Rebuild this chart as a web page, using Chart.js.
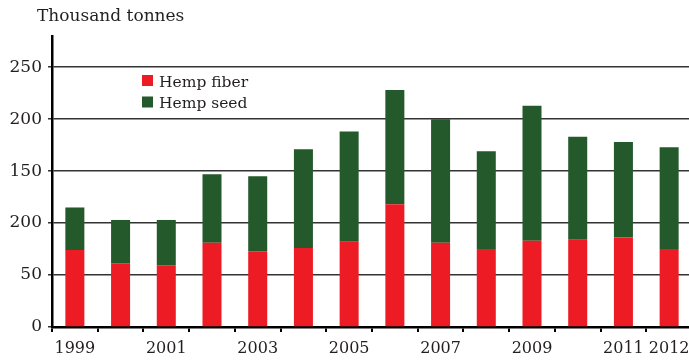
<!DOCTYPE html>
<html>
<head>
<meta charset="utf-8">
<script src="https://cdn.jsdelivr.net/npm/chart.js@4/dist/chart.umd.min.js"></script>
<style>
  html, body { margin: 0; padding: 0; background: #ffffff; overflow: hidden; width: 689px; height: 362px; }
  #wrap { position: relative; width: 697px; height: 362px; }
</style>
</head>
<body>
<div id="wrap"><canvas id="c" width="697" height="362"></canvas></div>
<script>
const years = ['1999','2000','2001','2002','2003','2004','2005','2006','2007','2008','2009','2010','2011','2012'];
const xLabelsShown = ['1999','2001','2003','2005','2007','2009','2011','2012'];
const hempFiber = [74, 61, 59, 81, 73, 76, 82, 118, 81, 75, 83, 84, 86, 75];
const hempSeed  = [41, 42, 44, 66, 72, 95, 106, 110, 119, 94, 130, 99, 92, 98];
const yTickValues = [0, 50, 100, 150, 200, 250];
const yTickLabels = ['0', '50', '200', '150', '200', '250'];
const seriesNames = ['Hemp fiber', 'Hemp seed'];
const unitTitle = 'Thousand tonnes';

const RED = '#ed1c24';
const GREEN = '#245a2b';
const TEXT = '#231f20';

Chart.defaults.font.family = "'DejaVu Serif', serif";
Chart.defaults.color = TEXT;

const overlay = {
  id: 'overlay',
  afterDraw(chart) {
    const ctx = chart.ctx;
    ctx.save();
    ctx.fillStyle = TEXT;
    ctx.font = "17px 'DejaVu Serif'";
    ctx.textBaseline = 'alphabetic';
    ctx.textAlign = 'left';
    ctx.fillText(unitTitle, 37, 21);
    // legend
    const ds = chart.data.datasets;
    ctx.font = "15.5px 'DejaVu Serif'";
    ds.forEach((d, i) => {
      const y0 = 75 + i * 21.5;
      ctx.fillStyle = d.backgroundColor;
      ctx.fillRect(142, y0, 11, 11);
      ctx.fillStyle = TEXT;
      ctx.fillText(d.label, 159, y0 + 11.5);
    });
    ctx.restore();
  }
};

new Chart(document.getElementById('c'), {
  type: 'bar',
  data: {
    labels: years,
    datasets: [
      { label: seriesNames[0], data: hempFiber, backgroundColor: RED, borderWidth: 0 },
      { label: seriesNames[1], data: hempSeed, backgroundColor: GREEN, borderWidth: 0 }
    ]
  },
  options: {
    responsive: false,
    animation: false,
    devicePixelRatio: 1,
    layout: { padding: { top: 36, right: 5, left: 0, bottom: 0 } },
    plugins: { legend: { display: false }, title: { display: false }, tooltip: { enabled: false } },
    datasets: { bar: { barPercentage: 0.416, categoryPercentage: 1 } },
    scales: {
      x: {
        stacked: true,
        offset: true,
        afterFit(scale) { scale.height = 35; },
        grid: { offset: true, drawOnChartArea: false, drawTicks: true, tickLength: 5, color: '#000', lineWidth: 2 },
        border: { display: true, color: '#000', width: 2.5 },
        ticks: {
          autoSkip: false, maxRotation: 0, minRotation: 0, padding: 7,
          font: { size: 16 }, color: TEXT,
          callback(v, i) { return xLabelsShown.includes(years[i]) ? years[i] : ''; }
        }
      },
      y: {
        stacked: true,
        min: 0,
        max: 280,
        afterFit(scale) { scale.width = 52; },
        afterBuildTicks(scale) { scale.ticks = yTickValues.map(v => ({ value: v })); },
        grid: { color: '#333333', lineWidth: 1.5, drawTicks: true, tickLength: 4 },
        border: { display: true, color: '#000', width: 2.5 },
        ticks: {
          padding: 6, font: { size: 17 }, color: TEXT,
          callback(v) { const k = yTickValues.indexOf(v); return k >= 0 ? yTickLabels[k] : ''; }
        }
      }
    }
  },
  plugins: [overlay]
});
</script>
</body>
</html>
